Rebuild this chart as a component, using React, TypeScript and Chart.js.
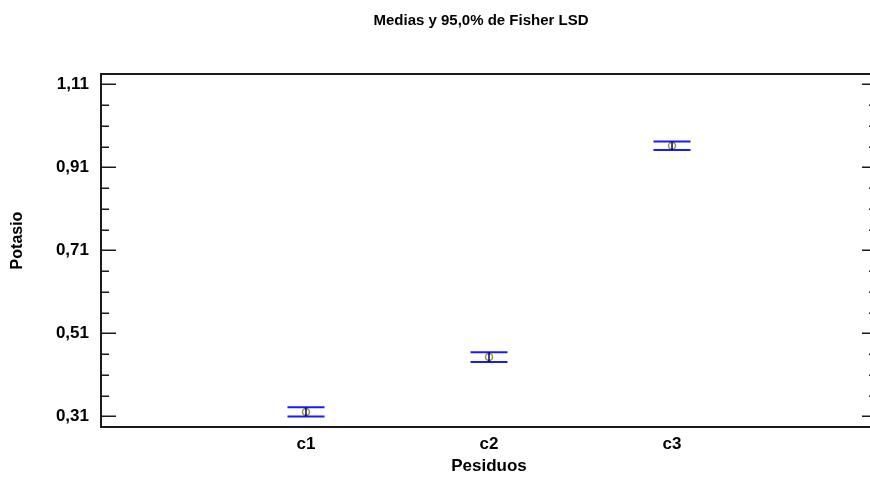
import React, { useEffect, useRef } from 'react';
import { Chart, registerables } from 'chart.js';

Chart.register(...registerables);

const categories = ['c1', 'c2', 'c3'];
const categoryPositions = [1, 2, 3];
const means = [0.321, 0.453, 0.962];
const lowerLimits = [0.310, 0.441, 0.952];
const upperLimits = [0.332, 0.465, 0.972];
const yTickValues = [0.31, 0.51, 0.71, 0.91, 1.11];
const yTickLabels = ['0,31', '0,51', '0,71', '0,91', '1,11'];
const yMinorTickValues = [0.36, 0.41, 0.46, 0.56, 0.61, 0.66, 0.76, 0.81, 0.86, 0.96, 1.01, 1.06];
const titleText = 'Medias y 95,0% de Fisher LSD';
const xTitle = 'Pesiduos';
const yTitle = 'Potasio';

const FONT = "'Liberation Sans', Arial, sans-serif";

const framePlugin = {
  id: 'frame',
  afterDatasetsDraw(chart: any) {
    const { ctx, chartArea, scales } = chart;
    const { left, right, top, bottom } = chartArea;
    const ys = scales.y;
    ctx.save();
    ctx.strokeStyle = '#1a1a1a';
    ctx.lineWidth = 2;
    ctx.beginPath();
    ctx.moveTo(left - 1, top);
    ctx.lineTo(right, top);
    ctx.moveTo(left - 1, bottom);
    ctx.lineTo(right, bottom);
    ctx.moveTo(left, top);
    ctx.lineTo(left, bottom);
    ctx.moveTo(right, top);
    ctx.lineTo(right, bottom);
    ctx.stroke();
    ctx.lineWidth = 1.5;
    ctx.beginPath();
    yTickValues.forEach((v) => {
      const y = Math.round(ys.getPixelForValue(v)) + 0.25;
      ctx.moveTo(left, y);
      ctx.lineTo(left + 15, y);
      ctx.moveTo(right, y);
      ctx.lineTo(right - 15, y);
    });
    yMinorTickValues.forEach((v) => {
      const y = Math.round(ys.getPixelForValue(v)) + 0.25;
      ctx.moveTo(left, y);
      ctx.lineTo(left + 8, y);
      ctx.moveTo(right, y);
      ctx.lineTo(right - 8, y);
    });
    ctx.stroke();
    ctx.restore();
  },
};

const textPlugin = {
  id: 'texts',
  afterDraw(chart: any) {
    const { ctx, chartArea } = chart;
    ctx.save();
    ctx.fillStyle = '#000';
    ctx.font = `bold 15px ${FONT}`;
    ctx.textAlign = 'center';
    ctx.textBaseline = 'middle';
    ctx.fillText(titleText, 481, 21);
    ctx.font = `bold 16px ${FONT}`;
    ctx.translate(18, (chartArea.top + chartArea.bottom) / 2 - 10);
    ctx.rotate(-Math.PI / 2);
    ctx.fillText(yTitle, 0, 0);
    ctx.restore();
  },
};

export default function App() {
  const canvasRef = useRef<HTMLCanvasElement | null>(null);

  useEffect(() => {
    if (!canvasRef.current) return;
    Chart.defaults.font.family = FONT;

    const connectorData: any[] = [];
    categoryPositions.forEach((x, i) => {
      connectorData.push({ x, y: lowerLimits[i] });
      connectorData.push({ x, y: upperLimits[i] });
      connectorData.push({ x: x + 0.5, y: null });
    });
    const capData: any[] = [];
    categoryPositions.forEach((x, i) => {
      capData.push({ x, y: lowerLimits[i] });
      capData.push({ x, y: upperLimits[i] });
    });
    const meanData = categoryPositions.map((x, i) => ({ x, y: means[i] }));

    const chart = new Chart(canvasRef.current, {
      type: 'scatter',
      data: {
        datasets: [
          {
            type: 'line',
            data: connectorData,
            borderColor: '#000080',
            borderWidth: 1.5,
            pointRadius: 0,
            spanGaps: false,
            fill: false,
          } as any,
          {
            data: capData,
            pointStyle: 'line',
            pointRadius: 18.5,
            borderColor: '#1a1aff',
            borderWidth: 2,
            backgroundColor: '#1a1aff',
          } as any,
          {
            data: meanData,
            pointStyle: 'circle',
            pointRadius: 3.5,
            borderColor: '#999900',
            borderWidth: 1.5,
            backgroundColor: 'rgba(0,0,0,0)',
          } as any,
        ],
      },
      options: {
        animation: false,
        responsive: false,
        events: [],
        layout: { autoPadding: false, padding: { top: 74, right: 0, bottom: 0, left: 0 } },
        plugins: { legend: { display: false }, tooltip: { enabled: false }, title: { display: false } },
        scales: {
          x: {
            type: 'linear',
            min: -0.12,
            max: 4.12,
            afterBuildTicks: (s: any) => {
              s.ticks = categoryPositions.map((v) => ({ value: v }));
            },
            afterFit: (s: any) => {
              s.height = 54;
            },
            ticks: {
              callback: (_v: any, i: number) => categories[i],
              font: { size: 17, weight: 'bold', family: FONT },
              color: '#000',
              padding: 7,
              maxRotation: 0,
              autoSkip: false,
            },
            grid: { display: false, drawTicks: false },
            border: { display: false },
            title: {
              display: true,
              text: xTitle,
              color: '#000',
              font: { size: 17, weight: 'bold', family: FONT },
              padding: { top: 0, bottom: 4 },
            },
          },
          y: {
            type: 'linear',
            min: 0.2847,
            max: 1.1348,
            afterBuildTicks: (s: any) => {
              s.ticks = yTickValues.map((v) => ({ value: v }));
            },
            afterFit: (s: any) => {
              s.width = 101;
            },
            ticks: {
              callback: (_v: any, i: number) => yTickLabels[i],
              font: { size: 17, weight: 'bold', family: FONT },
              color: '#000',
              padding: 12,
              autoSkip: false,
            },
            grid: { display: false, drawTicks: false },
            border: { display: false },
            title: { display: false },
          },
        },
      } as any,
      plugins: [framePlugin, textPlugin],
    });
    return () => chart.destroy();
  }, []);

  return (
    <div
      style={{
        position: 'fixed',
        left: 0,
        top: 0,
        width: 870,
        height: 481,
        overflow: 'hidden',
        background: '#fff',
      }}
    >
      <canvas ref={canvasRef} width={877} height={481} style={{ display: 'block' }} />
    </div>
  );
}
